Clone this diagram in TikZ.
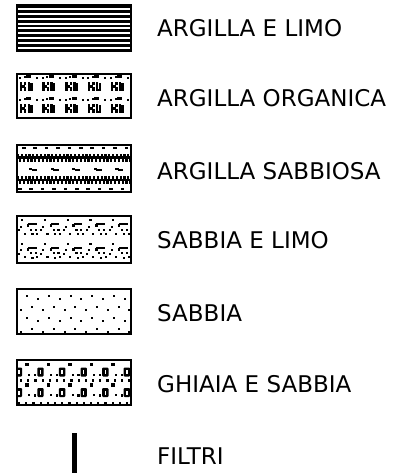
\documentclass[tikz,border=0pt]{standalone}
\usepackage{fontspec}
\setmainfont{DejaVu Sans}
\usetikzlibrary{positioning}
\newcommand{\px}[4]{\fill ({#1},{#2}) rectangle ++({#3},{#4});}

\begin{document}
\begin{tikzpicture}[
  x=1pt,y=-1pt,
  swatch/.style={minimum width=114pt,inner sep=0pt,outer sep=0pt},
  frame/.style={draw=black,line width=1.2pt},
  legendtxt/.style={anchor=base west,inner sep=0pt,font=\fontsize{23}{27}\selectfont},
  filterbar/.style={line width=5pt}
]
\useasboundingbox (0,0) rectangle (405,473);
% --- swatches ---
\node[swatch,minimum height=46pt] (argLimo) at (74,28) {};
\node[swatch,minimum height=44pt] (argOrg) at (74,96) {};
\node[swatch,minimum height=47pt] (argSab) at (74,168.5) {};
\node[swatch,minimum height=47pt] (sabLimo) at (74,239.5) {};
\node[swatch,minimum height=45pt] (sabbia) at (74,311.5) {};
\node[swatch,minimum height=45pt] (ghiaia) at (74,382.5) {};
% argilla e limo: stripes
\begin{scope}[shift={(argLimo.north west)}]
  \clip (0,0) rectangle (114,46);
  \foreach \k in {0,...,9}
    \fill (0,{0.2+4.85*\k}) rectangle (114,{3.1+4.85*\k});
\end{scope}
% argilla organica
\begin{scope}[shift={(argOrg.north west)}]
  \clip (0,0) rectangle (114,44);
  \foreach \c in {0,...,4}
  \foreach \r in {0,22} {
    \begin{scope}[shift={({22.8*\c},\r)}]
      \px{2}{2.6}{2}{2} \px{6.5}{2}{2}{2} \px{9}{1.4}{5}{2.2} \px{19}{2.6}{2}{2}
      \px{2.5}{8}{2.5}{9} \px{5}{10.8}{2.6}{3.2} \px{7}{8}{2.4}{3} \px{7}{13.5}{2.4}{3.5}
      \px{10.5}{8}{2.4}{9} \px{10.5}{14.6}{5}{2.4} \px{13.2}{9.5}{2.4}{7.5}
    \end{scope}
  }
\end{scope}
% argilla sabbiosa
\begin{scope}[shift={(argSab.north west)}]
  \clip (0,0) rectangle (114,47);
  \foreach \k in {0,...,9} {\px{5+11.4*\k}{2}{3.5}{2} \px{1+11.4*\k}{43.3}{3.5}{2}}
  \foreach \y in {9,31} {
    \fill (0,{\y+2.5}) rectangle (114,{\y+5});
    \foreach \k in {0,...,29} {\px{3.8*\k}{\y}{2.2}{2.5} \px{3.8*\k+1.9}{\y+5}{2.2}{2.5}}
  }
  \foreach \c in {0,...,4} {\px{21.6*\c+12}{22.8}{3.2}{2} \px{21.6*\c+14.5}{24.4}{5.5}{2}}
\end{scope}
% sabbia e limo
\begin{scope}[shift={(sabLimo.north west)}]
  \clip (0,0) rectangle (114,47);
  \foreach \c in {0,...,4}
  \foreach \r in {0,23.5} {
    \begin{scope}[shift={({22.8*\c},\r)}]
      \px{9.8}{8}{2.3}{3.3} \px{11}{7.2}{8.5}{2.2}
      \px{2.5}{9.5}{2.1}{2.1} \px{12.7}{12.5}{2.2}{2.2} \px{17.5}{12.5}{2.2}{2.2}
      \px{6.5}{16.5}{2.2}{2.2} \px{14.3}{17}{2.2}{2.2} \px{19.3}{16.5}{2.1}{2.1}
      \px{0.5}{13}{2.1}{2.1} \px{4}{3}{2.1}{2.1}
    \end{scope}
  }
\end{scope}
% sabbia
\begin{scope}[shift={(sabbia.north west)}]
  \foreach \r in {0,22} {
    \foreach \k in {0,...,9} {\pgfmathsetmacro\dy{mod(\k,2)*3.3} \px{9.3+10.8*\k}{6+\r+\dy}{2}{2}}
    \foreach \k in {0,...,10} {\pgfmathsetmacro\dy{mod(\k+1,2)*3.3} \px{3.3+10.8*\k}{17+\r+\dy}{2}{2}}
  }
\end{scope}
% ghiaia e sabbia
\begin{scope}[shift={(ghiaia.north west)}]
  \clip (0,0) rectangle (114,45);
  \foreach \r in {0,20.5}
  \foreach \k in {0,...,5} {
    \pgfmathsetmacro\xc{1.9+21.6*\k}
    \fill[rounded corners=1pt] (\xc-3.2,7.5+\r) rectangle (\xc+3.2,16.5+\r);
    \fill[white] (\xc-0.7,10+\r) rectangle (\xc+0.7,14.2+\r);
    \px{\xc+6}{2.6+\r}{3.6}{3.8} \px{\xc+15.2}{13.8+\r}{2.2}{2.2} \px{\xc+9.5}{13.5+\r}{2}{2}
  }
  \foreach \j in {0,...,15} {\px{3+7.2*\j}{19.3}{2.2}{2.2} \px{1+7.2*\j}{41.8}{2.2}{2.2}}
\end{scope}
\foreach \b in {argLimo,argOrg,argSab,sabLimo,sabbia,ghiaia}
  \draw[frame] (\b.north west) rectangle (\b.south east);
% filtri
\coordinate (filtTop) at (74.5,433);
\coordinate (filtBot) at (74.5,473);
\draw[filterbar] (filtTop) -- (filtBot);
% labels
\node[legendtxt] (tArgLimo) at (157,37) {ARGILLA E LIMO};
\node[legendtxt] (tArgOrg) at (157,107) {ARGILLA ORGANICA};
\node[legendtxt] (tArgSab) at (157,179) {ARGILLA SABBIOSA};
\node[legendtxt] (tSabLimo) at (157,248) {SABBIA E LIMO};
\node[legendtxt] (tSabbia) at (157,321) {SABBIA};
\node[legendtxt] (tGhiaia) at (157,392) {GHIAIA E SABBIA};
\node[legendtxt] (tFiltri) at (157,464) {FILTRI};
\end{tikzpicture}
\end{document}
